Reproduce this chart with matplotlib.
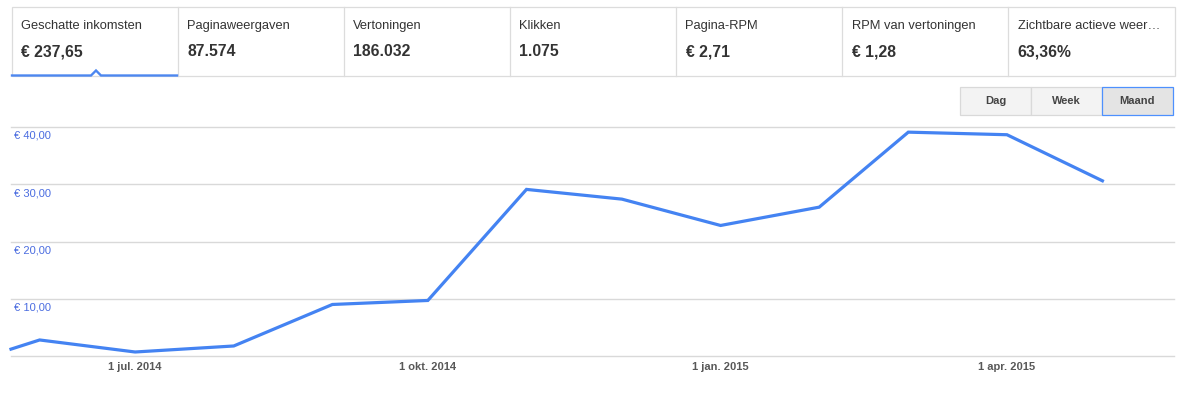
import numpy as np
import matplotlib.pyplot as plt
import matplotlib.dates as mdates
from matplotlib.patches import Rectangle
import datetime as dt

plt.rcParams['font.family'] = ['Liberation Sans', 'DejaVu Sans']

# tiles on top
tile_labels = ["Geschatte inkomsten", "Paginaweergaven", "Vertoningen", "Klikken",
               "Pagina-RPM", "RPM van vertoningen", "Zichtbare actieve weer\u2026"]
tile_values = ["\u20ac 237,65", "87.574", "186.032", "1.075",
               "\u20ac 2,71", "\u20ac 1,28", "63,36%"]

buttons = ["Dag", "Week", "Maand"]
active_button = "Maand"

# monthly earnings (EUR)
dates = ["2014-05-23", "2014-06-01", "2014-07-01", "2014-08-01", "2014-09-01",
         "2014-10-01", "2014-11-01", "2014-12-01", "2015-01-01", "2015-02-01",
         "2015-03-01", "2015-04-01", "2015-05-01"]
earnings = [1.2, 2.8, 0.7, 1.75, 9.0, 9.7, 29.1, 27.4, 22.8, 26.0, 39.1, 38.65, 30.6]

y_ticks = [0, 10, 20, 30, 40]
y_labels = ["", "\u20ac 10,00", "\u20ac 20,00", "\u20ac 30,00", "\u20ac 40,00"]
x_ticks = ["2014-07-01", "2014-10-01", "2015-01-01", "2015-04-01"]
x_labels = ["1 jul. 2014", "1 okt. 2014", "1 jan. 2015", "1 apr. 2015"]

W, H = 1187, 395
fig = plt.figure(figsize=(W / 100, H / 100), dpi=100)
fig.patch.set_facecolor('white')

# chart area (pixel geometry)
cl, cr, ct, cb = 11, 1174, 127, 356
ax = fig.add_axes([cl / W, (H - cb) / H, (cr - cl) / W, (cb - ct) / H])
ax.set_facecolor('none')
d = [dt.datetime.strptime(s, "%Y-%m-%d") for s in dates]
ax.set_xlim(dt.datetime(2014, 5, 23), dt.datetime(2015, 5, 23, 12))
ax.set_ylim(0, 40)
for s in ax.spines.values():
    s.set_visible(False)
for v in y_ticks:
    ax.axhline(v, color='#d9d9d9', lw=1.0, zorder=1, clip_on=False)
ax.plot(d, earnings, color='#4483f2', lw=2.3, zorder=3, clip_on=False,
        solid_joinstyle='miter')
ax.set_yticks([])
for v, lbl in zip(y_ticks, y_labels):
    if lbl:
        ax.annotate(lbl, xy=(0, v), xycoords=('axes fraction', 'data'),
                    xytext=(3, -9), textcoords='offset pixels',
                    ha='left', va='center', fontsize=8, color='#4a6ce0')
ax.set_xticks([dt.datetime.strptime(s, "%Y-%m-%d") for s in x_ticks])
ax.set_xticklabels(x_labels, fontsize=8, fontweight='bold', color='#585858')
ax.tick_params(axis='x', length=0, pad=4)

# overlay for tiles and buttons
ov = fig.add_axes([0, 0, 1, 1])
ov.set_xlim(0, W)
ov.set_ylim(H, 0)
ov.axis('off')
ov.patch.set_alpha(0)

edges = [11.5, 177.5, 343.5, 509.5, 676, 842, 1008, 1174.5]
ov.add_patch(Rectangle((edges[0], 7), edges[-1] - edges[0], 69, fill=False,
                       ec='#dcdcdc', lw=0.9))
for x in edges[1:-1]:
    ov.plot([x, x], [7, 76], color='#dcdcdc', lw=0.9)
for i, (lbl, val) in enumerate(zip(tile_labels, tile_values)):
    x0 = edges[i] + 9.5
    ov.text(x0, 26, lbl, fontsize=9.3, color='#333333', ha='left', va='center')
    ov.text(x0, 52, val, fontsize=11.3, fontweight='bold', color='#333333',
            ha='left', va='center')

# selected tile underline with notch
ov.plot([12, 91, 96, 101, 177], [75.5, 75.5, 70.5, 75.5, 75.5],
        color='#4d87f0', lw=1.7, solid_joinstyle='miter')

# Dag / Week / Maand buttons
bx = [960, 1031, 1102, 1173]
for i, b in enumerate(buttons):
    active = b == active_button
    ov.add_patch(Rectangle((bx[i], 87), bx[i + 1] - bx[i], 28,
                           fc='#e4e4e4' if active else '#f3f3f3',
                           ec='#4d90fe' if active else '#d9d9d9', lw=0.9,
                           zorder=3 if active else 2))
    ov.text((bx[i] + bx[i + 1]) / 2, 101.5, b, fontsize=8, fontweight='bold',
            color='#444444', ha='center', va='center', zorder=4)

fig.savefig('out.png', dpi=100)
